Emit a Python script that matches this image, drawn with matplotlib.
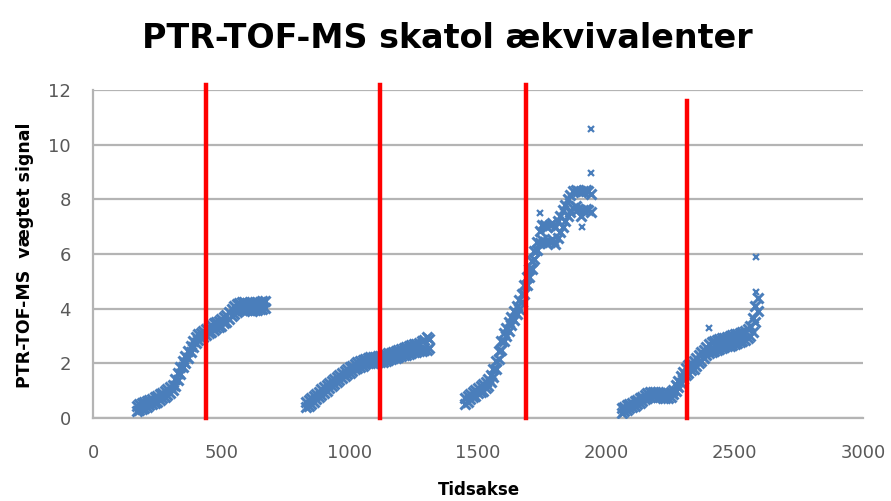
import matplotlib
matplotlib.use("Agg")
import matplotlib.pyplot as plt

# cluster 1
x1 = [170, 180, 190, 200, 210, 220, 230, 240, 250, 260, 270, 280, 290, 300, 310, 320, 330,
      340, 350, 360, 370, 380, 390, 400, 410, 420, 430, 440, 450, 460, 470, 480, 490, 500,
      510, 520, 530, 540, 550, 560, 570, 580, 590, 600, 610, 620, 630, 640, 650, 660, 670]
y1_lo = [0.25, 0.30, 0.34, 0.38, 0.42, 0.46, 0.50, 0.55, 0.60, 0.66, 0.72, 0.78, 0.85, 0.92,
         1.02, 1.18, 1.40, 1.62, 1.85, 2.02, 2.20, 2.40, 2.58, 2.74, 2.84, 2.92, 2.98, 3.04,
         3.10, 3.16, 3.22, 3.28, 3.34, 3.38, 3.46, 3.52, 3.62, 3.72, 3.80, 3.88, 3.94, 3.96,
         3.96, 3.94, 3.94, 3.92, 3.96, 3.96, 3.98, 4.00, 4.04]
y1_hi = [0.45, 0.50, 0.54, 0.58, 0.62, 0.66, 0.70, 0.75, 0.80, 0.86, 0.92, 0.98, 1.05, 1.12,
         1.22, 1.42, 1.64, 1.88, 2.10, 2.28, 2.45, 2.64, 2.82, 2.96, 3.06, 3.12, 3.18, 3.26,
         3.32, 3.40, 3.46, 3.52, 3.56, 3.62, 3.70, 3.78, 3.88, 3.98, 4.08, 4.16, 4.22, 4.24,
         4.24, 4.22, 4.22, 4.20, 4.24, 4.24, 4.26, 4.28, 4.28]

# cluster 2
x2 = [830, 840, 850, 860, 870, 880, 890, 900, 910, 920, 930, 940, 950, 960, 970, 980, 990,
      1000, 1010, 1020, 1030, 1040, 1050, 1060, 1070, 1080, 1090, 1100, 1110, 1120, 1130,
      1140, 1150, 1160, 1170, 1180, 1190, 1200, 1210, 1220, 1230, 1240, 1250, 1260, 1270,
      1280, 1290, 1300, 1310]
y2_lo = [0.42, 0.45, 0.52, 0.60, 0.68, 0.76, 0.85, 0.92, 1.00, 1.08, 1.16, 1.24, 1.30, 1.38,
         1.45, 1.52, 1.60, 1.66, 1.72, 1.78, 1.83, 1.88, 1.92, 1.96, 2.00, 2.02, 2.02, 2.04,
         2.05, 2.04, 2.06, 2.08, 2.12, 2.14, 2.18, 2.20, 2.24, 2.28, 2.30, 2.32, 2.35, 2.38,
         2.40, 2.42, 2.44, 2.45, 2.48, 2.50, 2.55]
y2_hi = [0.58, 0.65, 0.72, 0.80, 0.88, 0.96, 1.05, 1.12, 1.20, 1.28, 1.36, 1.44, 1.50, 1.58,
         1.65, 1.72, 1.80, 1.86, 1.92, 1.98, 2.03, 2.08, 2.12, 2.16, 2.20, 2.22, 2.22, 2.24,
         2.25, 2.28, 2.30, 2.32, 2.36, 2.38, 2.42, 2.46, 2.48, 2.52, 2.55, 2.58, 2.62, 2.66,
         2.70, 2.72, 2.76, 2.80, 2.85, 2.95, 2.90]

# cluster 3
x3 = [1450, 1460, 1470, 1480, 1490, 1500, 1510, 1520, 1530, 1540, 1550, 1560, 1570, 1580,
      1590, 1600, 1610, 1620, 1630, 1640, 1650, 1660, 1670, 1680, 1690, 1700, 1710, 1720,
      1730, 1740, 1750, 1760, 1770, 1780, 1790, 1800, 1810, 1820, 1830, 1840, 1850, 1860,
      1870, 1880, 1890, 1900, 1910, 1920, 1930, 1940]
y3_lo = [0.52, 0.60, 0.68, 0.75, 0.82, 0.90, 0.95, 1.00, 1.08, 1.18, 1.32, 1.50, 1.80, 2.15,
         2.50, 2.80, 3.00, 3.20, 3.40, 3.60, 3.80, 4.00, 4.25, 4.55, 4.85, 5.15, 5.45, 5.80,
         6.15, 6.40, 6.50, 6.45, 6.40, 6.45, 6.55, 6.35, 6.60, 6.80, 7.00, 7.20, 7.40, 7.55,
         7.70, 7.75, 7.65, 7.40, 7.60, 7.65, 7.60, 7.55]
y3_hi = [0.72, 0.80, 0.88, 0.95, 1.02, 1.10, 1.16, 1.24, 1.32, 1.42, 1.58, 1.80, 2.10, 2.45,
         2.80, 3.10, 3.30, 3.50, 3.70, 3.90, 4.10, 4.30, 4.55, 4.85, 5.15, 5.45, 5.75, 6.10,
         6.45, 6.85, 7.05, 7.05, 7.00, 7.05, 7.15, 7.00, 7.20, 7.40, 7.60, 7.80, 8.00, 8.15,
         8.30, 8.35, 8.30, 8.25, 8.30, 8.35, 8.30, 8.20]
x3_out = [1940, 1940, 1740, 1905, 1805]
y3_out = [10.57, 8.96, 7.50, 7.00, 6.40]

# cluster 4
x4 = [2060, 2070, 2080, 2090, 2100, 2110, 2120, 2130, 2140, 2150, 2160, 2170, 2180, 2190,
      2200, 2210, 2220, 2230, 2240, 2250, 2260, 2270, 2280, 2290, 2300, 2310, 2320, 2330,
      2340, 2350, 2360, 2370, 2380, 2390, 2400, 2410, 2420, 2430, 2440, 2450, 2460, 2470,
      2480, 2490, 2500, 2510, 2520, 2530, 2540, 2550, 2560, 2570, 2580, 2590]
y4_lo = [0.20, 0.25, 0.30, 0.35, 0.40, 0.45, 0.50, 0.56, 0.62, 0.68, 0.74, 0.78, 0.80, 0.80,
         0.78, 0.76, 0.72, 0.72, 0.74, 0.78, 0.86, 1.00, 1.14, 1.28, 1.42, 1.56, 1.66, 1.74,
         1.80, 1.90, 2.00, 2.10, 2.20, 2.30, 2.36, 2.42, 2.46, 2.50, 2.54, 2.56, 2.60, 2.62,
         2.64, 2.66, 2.72, 2.76, 2.78, 2.80, 2.84, 2.92, 3.00, 3.15, 3.50, 3.90]
y4_hi = [0.36, 0.41, 0.46, 0.51, 0.56, 0.61, 0.66, 0.72, 0.78, 0.84, 0.90, 0.94, 0.96, 0.96,
         0.94, 0.92, 0.88, 0.88, 0.90, 0.94, 1.04, 1.20, 1.36, 1.52, 1.68, 1.84, 1.94, 2.02,
         2.10, 2.20, 2.30, 2.40, 2.50, 2.60, 2.70, 2.78, 2.82, 2.86, 2.90, 2.92, 2.94, 2.98,
         3.00, 3.02, 3.06, 3.08, 3.10, 3.14, 3.18, 3.26, 3.38, 3.65, 4.10, 4.40]
x4_out = [2583, 2583, 2400]
y4_out = [5.90, 4.60, 3.30]

# red markers (x position, top)
red_x = [440, 1120, 1685, 2315]
red_top = [12.2, 12.2, 12.2, 11.6]

blue = "#4a7ebb"
grid_col = "#b4b4b4"
txt_col = "#595959"

fig = plt.figure(figsize=(8.91, 5.01), dpi=100)
ax = fig.add_axes([0.1044, 0.1657, 0.8642, 0.6547])

series = [(x1, y1_lo), (x1, y1_hi), (x2, y2_lo), (x2, y2_hi), (x3, y3_lo), (x3, y3_hi),
          (x4, y4_lo), (x4, y4_hi)]
for xs, ys in series:
    ax.plot(xs, ys, linestyle="none", marker="x", color=blue, markersize=7, mew=2.2, zorder=3)
for xs, ys in [(x3_out, y3_out), (x4_out, y4_out)]:
    ax.plot(xs, ys, linestyle="none", marker="x", color=blue, markersize=5, mew=1.6, zorder=3)

for rx, rt in zip(red_x, red_top):
    ax.plot([rx, rx], [0, rt], color="#ff0000", linewidth=3.2, clip_on=False, zorder=4)

ax.set_xlim(0, 3000)
ax.set_ylim(0, 12)
ax.set_xticks([0, 500, 1000, 1500, 2000, 2500, 3000])
ax.set_yticks([0, 2, 4, 6, 8, 10, 12])
ax.grid(axis="y", color=grid_col, linewidth=1.6)
ax.set_axisbelow(True)
for s in ["top", "right"]:
    ax.spines[s].set_visible(False)
for s in ["left", "bottom"]:
    ax.spines[s].set_color(grid_col)
    ax.spines[s].set_linewidth(1.6)
ax.tick_params(length=0, labelsize=13, labelcolor=txt_col)
ax.tick_params(axis="x", pad=19)
ax.tick_params(axis="y", pad=16)

fig.text(0.502, 0.924, "PTR-TOF-MS skatol ækvivalenter", ha="center", va="center",
         fontsize=24, fontweight="bold", color="black")
fig.text(0.028, 0.49, "PTR-TOF-MS  vægtet signal", ha="center", va="center",
         rotation=90, fontsize=12.5, fontweight="bold", color="black")
fig.text(0.538, 0.022, "Tidsakse", ha="center", va="center",
         fontsize=12, fontweight="bold", color="black")

fig.savefig("out.png", dpi=100)
